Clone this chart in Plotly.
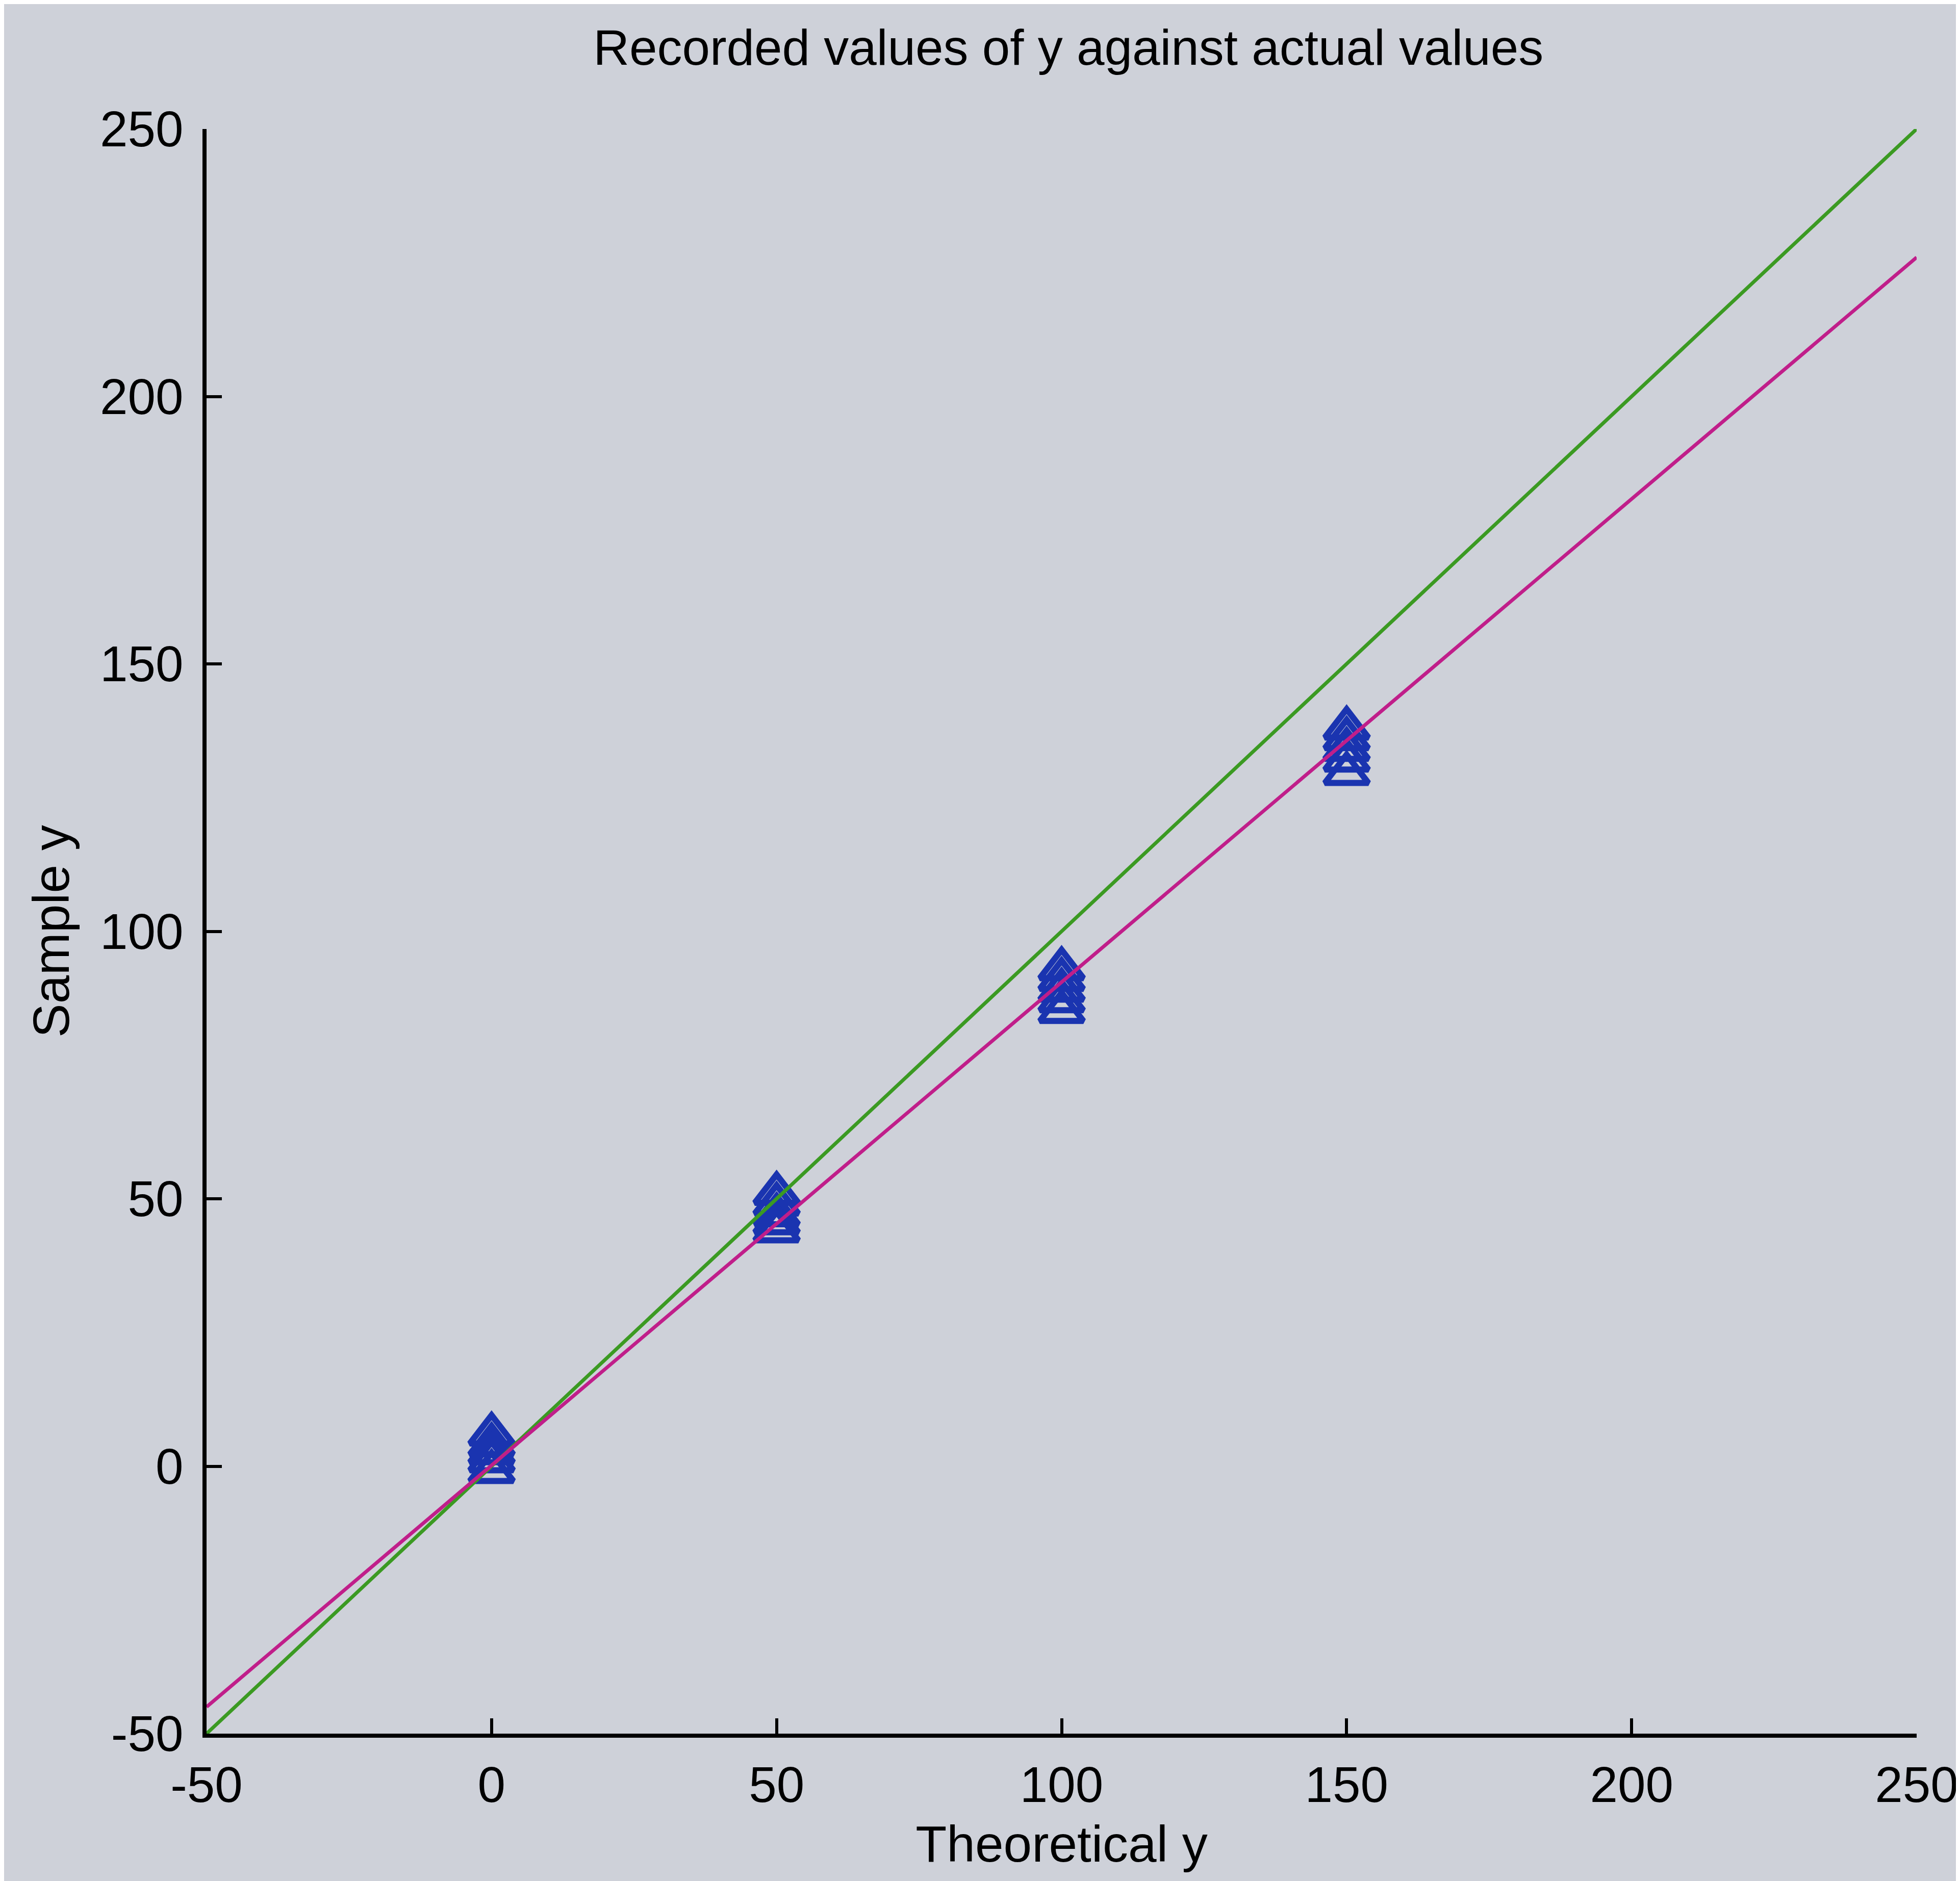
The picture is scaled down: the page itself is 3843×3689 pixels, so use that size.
import plotly.graph_objects as go

# ---- data ----
theoretical_x = [0, 0, 0, 0, 0,
                 50, 50, 50, 50, 50,
                 100, 100, 100, 100, 100,
                 150, 150, 150, 150, 150]
sample_y = [-1.0, 1.0, 2.5, 4.0, 6.0,
            44.0, 45.5, 47.0, 49.0, 51.0,
            85.0, 87.0, 89.0, 91.0, 93.0,
            129.5, 132.0, 134.0, 136.0, 138.0]

ideal_x = [-50, 250]
ideal_y = [-50, 250]

fit_x = [-50, 250]
fit_y = [-45, 226]

tick_vals = [-50, 0, 50, 100, 150, 200, 250]
tick_text = ["-50", "0", "50", "100", "150", "200", "250"]

BG = "#ced1d9"
FONT = "Liberation Sans, Arial, Helvetica, sans-serif"

fig = go.Figure()

fig.add_trace(go.Scatter(
    x=theoretical_x, y=sample_y, mode="markers",
    marker=dict(symbol="triangle-up-open", size=74, color="#1a34b0",
                line=dict(width=12, color="#1a34b0")),
    showlegend=False, cliponaxis=False,
))
fig.add_trace(go.Scatter(
    x=ideal_x, y=ideal_y, mode="lines",
    line=dict(color="#3b9a22", width=7),
    showlegend=False, cliponaxis=False,
))
fig.add_trace(go.Scatter(
    x=fit_x, y=fit_y, mode="lines",
    line=dict(color="#c01e8a", width=7),
    showlegend=False, cliponaxis=False,
))

axis_common = dict(
    tickvals=tick_vals, ticktext=tick_text,
    ticks="inside", ticklen=30, tickwidth=6, tickcolor="black",
    showline=True, linewidth=8, linecolor="black",
    showgrid=False, zeroline=False, mirror=False,
    tickfont=dict(family=FONT, size=98, color="black"),
)

fig.update_layout(
    width=3843, height=3689,
    paper_bgcolor=BG, plot_bgcolor=BG,
    margin=dict(l=397, r=93, t=245, b=297),
    font=dict(family=FONT, color="black"),
    title=dict(text="Recorded values of y against actual values",
               x=0.543, xanchor="center", y=0.977, yanchor="middle",
               font=dict(family=FONT, size=98, color="black")),
    xaxis=dict(range=[-50, 250], ticklabelstandoff=8,
               title=dict(text="Theoretical y", standoff=30,
                          font=dict(family=FONT, size=100, color="black")),
               **axis_common),
    yaxis=dict(range=[-50, 250], ticklabelstandoff=18,
               title=dict(text="Sample y", standoff=30,
                          font=dict(family=FONT, size=100, color="black")),
               **axis_common),
)

fig.write_html("out.html")
